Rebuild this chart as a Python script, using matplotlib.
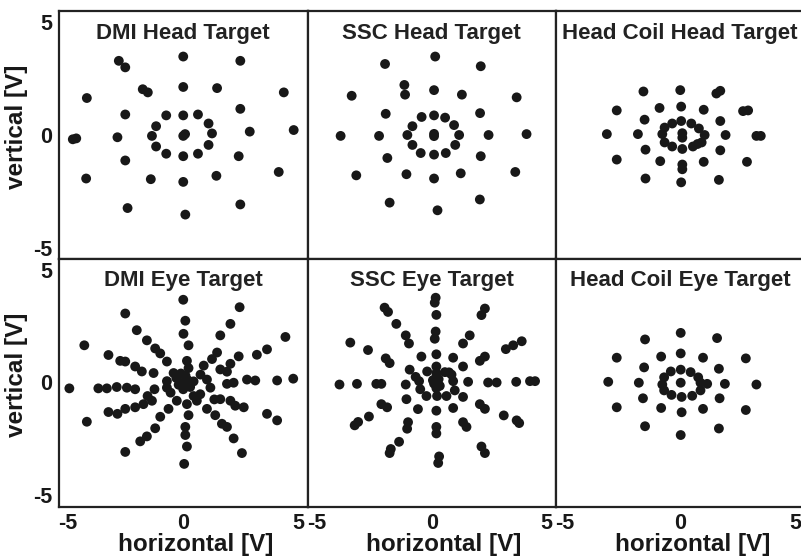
import matplotlib
matplotlib.use("Agg")
import matplotlib.pyplot as plt

plt.rcParams['font.family'] = ['Liberation Sans', 'DejaVu Sans']
plt.rcParams['font.weight'] = 'bold'
plt.rcParams['axes.unicode_minus'] = False

# fixation positions, in volts
dmi_head_x = [0, 2.48, -2.8, -2.52, -4.19, 0, 1.47, -1.54, -1.76, 4.37, -2.52, 2.48, -0.74, 0, 0.64,
              -1.18, 1.10, 1.25, 2.89, 4.8, -4.8, -4.65, -2.86, -1.36, 0, 0.08, -1.18, 1.10, -0.74, 0,
              0.64, -2.52, 2.41, -4.22, -1.41, 0, 1.44, 4.15, -2.42, 2.48, 0.09]
dmi_head_y = [3.48, 3.29, 3.29, 3.0, 1.64, 2.13, 2.08, 1.89, 2.03, 1.89, 0.91, 1.16, 0.87, 0.87, 0.91,
              0.39, 0.51, 0.07, 0.15, 0.22, -0.19, -0.15, -0.10, -0.04, -0.04, 0.04, -0.51, -0.44, -0.83, -0.94,
              -0.83, -1.13, -0.94, -1.93, -1.96, -2.08, -1.81, -1.64, -3.24, -3.08, -3.53]

ssc_head_x = [0.15, -2.03, 2.13, -1.19, -1.16, 0.1, 1.31, -3.48, 3.69, -2.0, 2.10, -0.44, 0.1, 0.58,
              0.97, -0.84, -1.06, 0.1, 0.1, 1.19, 2.47, 4.12, -3.96, -2.29, -0.84, 1.02, -0.48, 0.1,
              0.61, -1.93, 2.13, -3.28, -1.10, 0.1, 1.26, 3.63, -1.83, 2.09, 0.25]
ssc_head_y = [3.48, 3.15, 3.05, 2.22, 1.79, 1.99, 1.79, 1.74, 1.67, 0.94, 0.97, 0.80, 0.87, 0.77,
              0.44, 0.39, 0, 0.05, -0.05, 0, 0, 0.04, -0.04, -0.04, -0.44, -0.44, -0.80, -0.87,
              -0.80, -1.02, -0.94, -1.79, -1.74, -1.93, -1.70, -1.64, -3.0, -2.86, -3.34]

coil_head_x = [0, -1.6, 1.57, 1.74, -2.76, -0.90, 0.04, 1.02, 2.73, 2.95, -1.55, 1.74, -0.35, 0.04,
               0.48, -0.68, 0.81, -0.78, 0.09, 0.09, 1.06, -3.19, -1.84, 1.97, 3.31, 3.5, -0.68, 0.93,
               -0.35, 0.09, 0.55, 0.75, -1.51, 1.74, -2.76, -0.87, 0.09, 0.09, 1.02, 2.90, -1.51,
               0.04, 1.68]
coil_head_y = [1.99, 1.93, 1.84, 1.96, 1.09, 1.20, 1.26, 1.12, 1.06, 1.09, 0.68, 0.62, 0.51, 0.62,
               0.51, 0.33, 0.29, 0.04, 0.08, -0.12, 0, 0.04, 0.04, 0, -0.04, -0.04, -0.33, -0.33,
               -0.51, -0.62, -0.51, -0.4, -0.65, -0.68, -1.09, -1.16, -1.31, -1.52, -1.19, -1.19,
               -1.93, -2.10, -1.99]

dmi_eye_x = [0, 2.45, -2.52, 4.44, 2.05, 1.61, -2.02, -1.58, -4.3, 0.09, 0.01, 0.23, -1.22, -1.0,
             -0.71, 3.64, 3.2, 2.41, 2.05, 1.47, 1.25, 0.89, -3.25, -2.74, -2.52, -2.09, -1.8, -1.29,
             0.16, 0.23, -0.42, 1.61, 1.90, 2.77, 3.13, 2.19, 1.9, 4.08, 4.78, -4.95, -3.69, -3.32,
             -2.89, -2.45, -2.09, -1.73, -1.36, -1.55, 0, 0.2, -0.2, 0.3, -0.3, 0.1, 0, 0.45, -0.1,
             -0.71, -0.71, 1.03, 1.18, 0.74, 0.59, 1.61, 2.05, 2.26, 2.63, 3.64, 4.08, 1.03, 1.39,
             1.68, 1.9, 2.19, 2.55, 0.16, 0.23, 0.09, 0.09, 0.16, 0.04, -0.28, -0.64, -1.0, -1.22,
             -1.58, -1.87, -2.52, -4.19, -3.25, -2.86, -2.52, -2.09, 0.75, -0.55, 0.45, -1.25, 1.35]
dmi_eye_y = [3.67, 3.34, 3.06, 2.02, 2.6, 2.09, 2.32, 1.87, 1.65, 2.74, 2.16, 1.65, 1.51, 1.29,
             0.93, 1.47, 1.23, 1.16, 0.83, 1.33, 1.04, 0.75, 1.22, 0.96, 0.93, 0.71, 0.49, 0.42,
             0.96, 0.64, 0.42, 0.58, 0.48, 0.13, 0.09, -0.01, -0.06, 0.09, 0.17, -0.26, -0.26, -0.26,
             -0.20, -0.23, -0.30, -0.96, -0.81, -0.6, 0, 0.1, -0.1, -0.2, 0.2, 0.3, -0.3, 0.05, 0.4,
             0.06, -0.23, 0.13, -0.23, -0.52, -0.81, -0.74, -0.81, -1.03, -1.1, -1.39, -1.68, -1.17,
             -1.45, -1.83, -1.97, -2.48, -3.13, -0.96, -1.45, -1.97, -2.33, -2.84, -3.61, -0.81,
             -1.17, -1.52, -2.03, -2.39, -2.61, -3.08, -1.74, -1.31, -1.39, -1.17, -1.10, 0.35,
             -0.45, -0.6, -0.3, -0.75]

ssc_eye_x = [0.17, 0.13, 0.20, 0.17, 0.13, 0.20, 0.2, 0.2, -2.05, -1.90, -1.54, -1.13, -0.99, -0.45,
             -0.2, 2.31, 2.16, 1.65, 1.36, 0.93, 0.57, -3.54, -2.77, -2.0, -1.83, -0.96, 3.91, 3.54,
             3.22, 2.31, 2.09, 1.36, 0.86, -4.01, -3.25, -2.41, -2.19, -1.13, -0.55, 4.27, 4.49, 3.67,
             2.45, 2.82, 1.58, 0.93, 0.1, 0.3, 0.2, 0.05, 0.35, 0.2, -3.35, -3.2, -2.73, -2.19,
             -1.94, -1.10, -0.23, -1.83, -1.78, -1.42, -1.03, -1.07, -0.60, 0.28, 0.32, 0.2, 0.2,
             0.2, 0.23, 2.31, 2.16, 1.36, 1.51, 0.93, 0.64, 3.80, 3.69, 3.13, 2.09, 2.31, 1.36, 1.0,
             -0.5, 0.75, -0.7]
ssc_eye_y = [3.76, 3.54, 3.0, 2.26, 1.94, 1.25, 0.71, 0.42, 3.32, 3.13, 2.6, 2.09, 1.73, 1.15,
             0.49, 3.28, 2.99, 2.09, 1.73, 1.1, 0.46, 1.77, 1.44, 1.07, 0.86, 0.57, 1.83, 1.65, 1.48,
             1.15, 0.96, 0.71, 0.35, -0.09, -0.06, -0.06, -0.06, -0.09, 0.06, 0.06, 0.06, 0.03, 0,
             0, 0.03, 0.06, -0.05, 0.15, -0.25, 0.1, -0.15, 0.25, -1.9, -1.75, -1.51, -0.96, -1.1,
             -0.74, -0.6, -3.13, -2.95, -2.63, -1.76, -2.05, -1.18, -3.57, -3.28, -2.26, -1.97, -1.25,
             -0.6, -3.13, -2.84, -1.76, -1.97, -1.13, -0.6, -1.8, -1.68, -1.46, -0.96, -1.17, -0.64,
             -0.35, -0.3, 0.45, 0.25]

coil_eye_x = [0.02, -1.53, 1.6, -2.76, -0.83, 0.02, 0.99, 2.85, -1.57, 1.68, -0.41, 0.02, 0.45, -0.7,
              0.78, -0.78, 0.02, 0.88, 1.17, -3.13, -1.8, 1.94, 3.31, -0.7, 0.88, -0.38, 0.06, 0.52,
              -1.62, 1.71, -2.76, -0.83, 0.06, 0.99, 2.85, -1.53, 1.68, 0.02]
coil_eye_y = [2.2, 1.91, 1.97, 1.1, 1.15, 1.29, 1.1, 1.07, 0.67, 0.61, 0.49, 0.57, 0.46, 0.23,
              0.23, -0.09, -0.01, -0.01, -0.06, 0.03, -0.01, -0.06, -0.09, -0.35, -0.35, -0.55,
              -0.64, -0.59, -0.70, -0.70, -1.1, -1.13, -1.32, -1.17, -1.22, -1.94, -2.04, -2.33]

titles = ['DMI Head Target', 'SSC Head Target', 'Head Coil Head Target',
          'DMI Eye Target', 'SSC Eye Target', 'Head Coil Eye Target']
xs = [dmi_head_x, ssc_head_x, coil_head_x, dmi_eye_x, ssc_eye_x, coil_eye_x]
ys = [dmi_head_y, ssc_head_y, coil_head_y, dmi_eye_y, ssc_eye_y, coil_eye_y]
tick_vals = [-5, 0, 5]

fig = plt.figure(figsize=(8.01, 5.57), dpi=100)
W, H = 801, 557
lefts = [59, 307.5, 556]
tops = [11, 258.5]
pw, ph = 248.5, 248

for i in range(6):
    r, c = divmod(i, 3)
    ax = fig.add_axes([lefts[c] / W, 1 - (tops[r] + ph) / H, pw / W, ph / H])
    ax.scatter(xs[i], ys[i], s=50, c='#181818', edgecolors='none')
    ax.set_xlim(-5.4, 5.4)
    ax.set_ylim(-5.5, 5.5)
    ax.set_xticks(tick_vals)
    ax.set_yticks(tick_vals)
    ax.set_xticks([0], minor=True)
    ax.set_yticks([0], minor=True)
    ax.tick_params(which='major', length=0, labelsize=15.5, pad=5, labelcolor='#181818')
    ax.tick_params(which='minor', direction='in', length=3, width=1,
                   top=True, right=True, color='#222222')
    for s in ax.spines.values():
        s.set_linewidth(1.6)
        s.set_color('#222222')
    ax.text(0.5, 1 - 22 / ph, titles[i], transform=ax.transAxes, ha='center', va='center',
            fontsize=16, fontweight='bold', color='#222222')
    if c == 0:
        ax.set_ylabel('vertical [V]', fontsize=17.5, fontweight='bold', color='#181818')
        ax.yaxis.set_label_coords(-0.125, 0.532)
    else:
        ax.set_yticklabels([])
    if r == 1:
        ax.set_xlabel('horizontal [V]', fontsize=17.5, fontweight='bold', color='#181818')
        ax.xaxis.set_label_coords(0.55, -0.105)
    else:
        ax.set_xticklabels([])

fig.savefig('out.png', dpi=100)
